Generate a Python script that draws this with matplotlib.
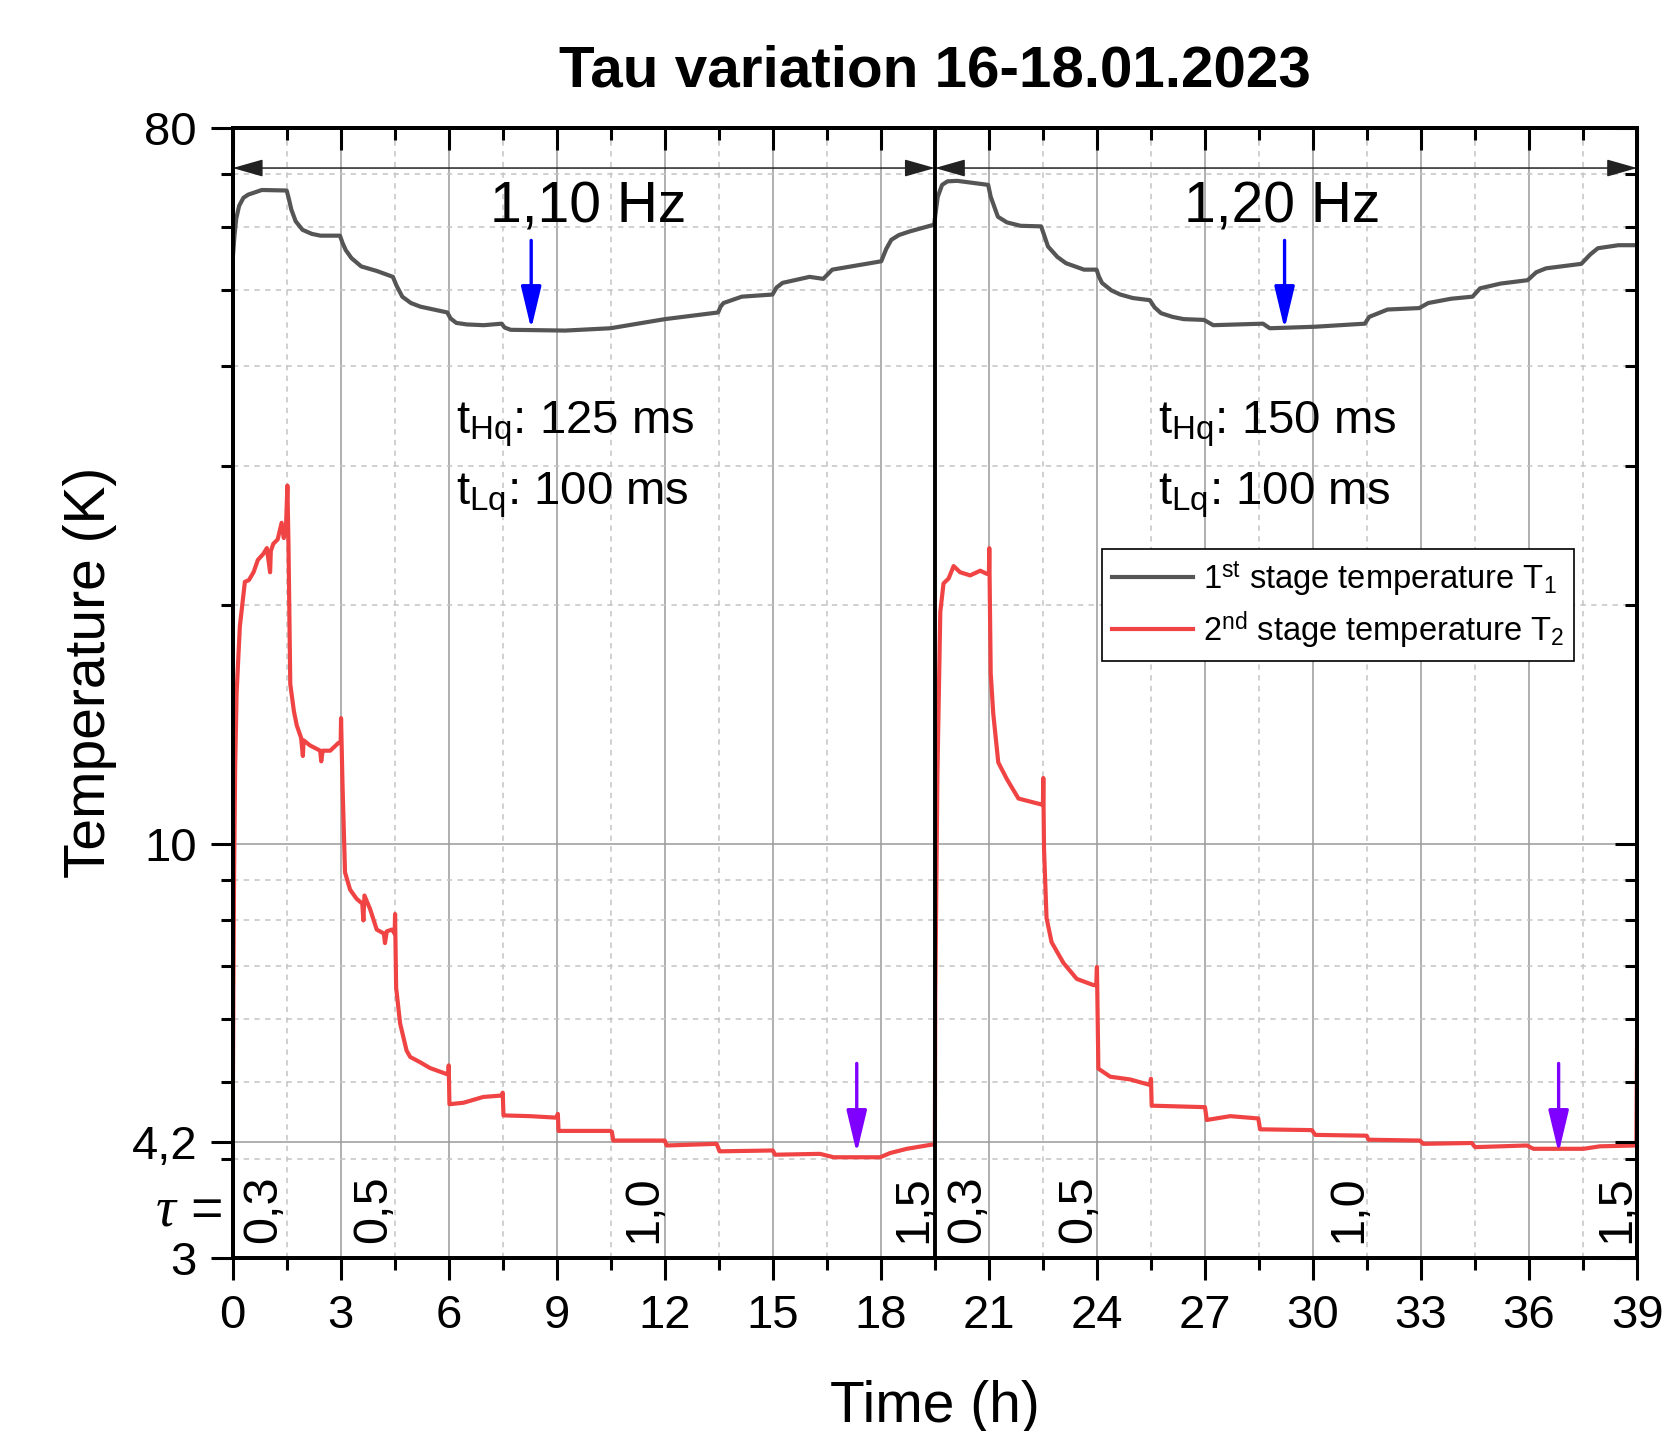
import matplotlib
matplotlib.use('Agg')
import matplotlib.pyplot as plt
from matplotlib.ticker import FixedLocator, FixedFormatter, NullFormatter

plt.rcParams['font.family'] = ['Liberation Sans', 'DejaVu Sans']
plt.rcParams['mathtext.fontset'] = 'custom'
plt.rcParams['mathtext.rm'] = 'Liberation Sans'
plt.rcParams['mathtext.it'] = 'Liberation Serif:italic'
plt.rcParams['mathtext.bf'] = 'Liberation Sans:bold'

# ---------------- data ----------------
title = 'Tau variation 16-18.01.2023'

# 1st stage temperature T1 (K) vs time (h)
t1_hours = [0.0, 0.05, 0.1, 0.18, 0.3, 0.43, 0.81, 1.50, 1.55, 1.63, 1.75, 1.94, 2.2, 2.44, 2.98,
            3.05, 3.14, 3.3, 3.57, 4.0, 4.45, 4.55, 4.71, 4.95, 5.21, 5.96, 6.05, 6.21, 6.5, 6.97,
            7.47, 7.55, 7.72, 9.23, 10.49, 12.0, 13.48, 13.55, 13.63, 14.14, 14.99, 15.1, 15.27,
            16.02, 16.40, 16.65, 18.01, 18.15, 18.29, 18.5, 18.79, 19.48,
            19.52, 19.58, 19.7, 19.85, 20.12, 20.98, 21.05, 21.25, 21.5, 21.88, 22.45, 22.55, 22.64,
            22.9, 23.14, 23.64, 23.99, 24.05, 24.14, 24.4, 24.65, 25.0, 25.47, 25.6, 25.78, 26.1,
            26.41, 26.97, 27.23, 28.61, 28.8, 30.06, 31.44, 31.56, 32.07, 32.95, 33.2, 33.83, 34.43,
            34.64, 35.21, 35.96, 36.2, 36.47, 37.45, 37.7, 37.91, 38.48, 38.98]
t1_temp = [54.5, 58.5, 61.5, 63.8, 65.3, 65.9, 66.8, 66.7, 65.4, 63.1, 61.0, 59.5, 58.8, 58.5, 58.5,
           57.3, 56.1, 54.8, 53.5, 52.8, 51.9, 50.6, 49.0, 48.1, 47.6, 46.8, 46.0, 45.4, 45.2, 45.1,
           45.3, 44.8, 44.5, 44.4, 44.7, 45.9, 46.8, 47.6, 48.1, 49.0, 49.3, 50.3, 51.0,
           51.9, 51.6, 53.0, 54.3, 56.3, 57.8, 58.6, 59.2, 60.4,
           62.5, 65.5, 67.8, 68.5, 68.6, 67.8, 65.5, 61.8, 60.8, 60.2, 60.1, 58.3, 56.7,
           55.0, 54.0, 53.0, 53.0, 52.0, 51.0, 49.9, 49.3, 48.8, 48.5, 47.5, 46.7, 46.2,
           45.9, 45.8, 45.1, 45.3, 44.7, 44.9, 45.3, 46.2, 47.2, 47.4, 48.1, 48.7, 49.0,
           50.2, 50.9, 51.4, 52.6, 53.2, 53.9, 55.4, 56.4, 56.9, 56.9]

# 2nd stage temperature T2 (K) vs time (h)
t2_hours = [0.0, 0.02, 0.04, 0.07, 0.11, 0.2, 0.34, 0.45, 0.58, 0.7, 0.85, 0.95, 1.04, 1.06, 1.13,
            1.25, 1.36, 1.42, 1.48, 1.52, 1.55, 1.58, 1.6, 1.7, 1.78, 1.9, 1.95, 1.97, 2.15, 2.43,
            2.46, 2.5, 2.71, 2.94, 3.0, 3.01, 3.05, 3.12, 3.26, 3.44, 3.6, 3.63, 3.66, 3.82, 4.0,
            4.2, 4.23, 4.28, 4.42, 4.5, 4.51, 4.54, 4.65, 4.83, 4.93, 5.2, 5.48, 5.99, 6.0, 6.02,
            6.41, 6.96, 7.47, 7.5, 7.52, 8.26, 9.0, 9.03, 9.05, 10.48, 10.53, 10.57, 12.0, 12.05,
            13.44, 13.52, 15.0, 15.06, 16.31, 16.69, 17.98, 18.26, 18.72, 19.41, 19.5,
            19.51, 19.57, 19.65, 19.74, 19.88, 20.02, 20.2, 20.48, 20.76, 20.94, 21.0, 21.01, 21.05,
            21.12, 21.26, 21.5, 21.82, 22.14, 22.47, 22.5, 22.51, 22.53, 22.6, 22.74, 23.07, 23.44,
            23.9, 23.98, 24.0, 24.04, 24.37, 24.92, 25.47, 25.5, 25.52, 27.0, 27.05, 27.7, 28.48,
            28.53, 29.97, 30.06, 31.49, 31.54, 32.97, 33.06, 34.41, 34.5, 35.94, 36.12, 37.51,
            37.97, 38.9, 38.98, 39.0]
t2_temp = [4.2, 6.5, 9.2, 12.5, 15.5, 18.8, 21.4, 21.5, 22.0, 22.8, 23.2, 23.6, 22.0, 23.4, 23.9,
           24.2, 25.4, 24.3, 25.0, 28.3, 23.9, 18.5, 15.9, 14.7, 14.1, 13.6, 12.9, 13.5, 13.3, 13.1,
           12.7, 13.1, 13.1, 13.4, 13.4, 14.4, 11.9, 9.2, 8.75, 8.52, 8.4, 8.0, 8.6, 8.26, 7.79,
           7.7, 7.49, 7.75, 7.79, 7.7, 8.15, 6.58, 5.93, 5.48, 5.38, 5.3, 5.21, 5.11, 5.25, 4.69,
           4.71, 4.79, 4.81, 4.85, 4.54, 4.53, 4.51, 4.56, 4.34, 4.34, 4.33, 4.22, 4.22, 4.16,
           4.18, 4.09, 4.1, 4.05, 4.06, 4.02, 4.02, 4.07, 4.12, 4.17, 4.17,
           6.36, 12.2, 19.6, 21.3, 21.6, 22.4, 22.0, 21.8, 22.1, 21.9, 21.9, 23.6, 16.4,
           14.6, 12.66, 12.06, 11.4, 11.3, 11.2, 11.2, 12.1, 9.86, 8.06, 7.51, 7.07, 6.75,
           6.63, 6.63, 6.99, 5.2, 5.08, 5.04, 4.96, 5.05, 4.67, 4.65, 4.48, 4.53, 4.5,
           4.36, 4.35, 4.29, 4.28, 4.23, 4.22, 4.18, 4.19, 4.14, 4.16, 4.12, 4.12,
           4.15, 4.16, 4.16, 5.8]

label_t1 = r'1$^{\mathrm{st}}$ stage temperature T$_{\mathrm{1}}$'
label_t2 = r'2$^{\mathrm{nd}}$ stage temperature T$_{\mathrm{2}}$'

# frequency runs: start, end (h), label
run_start = [0.0, 19.5]
run_end = [19.5, 39.0]
run_freq = ['1,10 Hz', '1,20 Hz']
run_tHq = [r't$_{\mathrm{Hq}}$: 125 ms', r't$_{\mathrm{Hq}}$: 150 ms']
run_tLq = [r't$_{\mathrm{Lq}}$: 100 ms', r't$_{\mathrm{Lq}}$: 100 ms']

# tau values per segment
tau_labels = ['0,3', '0,5', '1,0', '1,5', '0,3', '0,5', '1,0', '1,5']

# minimum markers (h)
t1_min_h = [8.29, 29.21]
t2_min_h = [17.33, 36.82]

x_major = list(range(0, 40, 3))
x_major_labels = [str(v) for v in x_major]
x_minor = [1.5 + 3 * i for i in range(13)]
y_major = [3, 4.2, 10, 80]
y_major_labels = ['3', '4,2', '10', '80']
y_minor = [4, 5, 6, 7, 8, 9, 20, 30, 40, 50, 60, 70]

# ---------------- figure ----------------
fig = plt.figure(figsize=(16.81, 14.31), dpi=100)
ax = fig.add_axes([0.1384, 0.1209, 0.8355, 0.7897])
ax.set_yscale('log')
ax.set_xlim(0, 39)
ax.set_ylim(3, 80)

ax.xaxis.set_major_locator(FixedLocator(x_major))
ax.xaxis.set_major_formatter(FixedFormatter(x_major_labels))
ax.xaxis.set_minor_locator(FixedLocator(x_minor))
ax.xaxis.set_minor_formatter(NullFormatter())
ax.yaxis.set_major_locator(FixedLocator(y_major))
ax.yaxis.set_major_formatter(FixedFormatter(y_major_labels))
ax.yaxis.set_minor_locator(FixedLocator(y_minor))
ax.yaxis.set_minor_formatter(NullFormatter())

TICK_W = 2.2
ax.tick_params(which='major', direction='out', length=15.6, width=TICK_W, labelsize=34, pad=10)
ax.tick_params(which='minor', direction='out', length=8.6, width=TICK_W)
for s in ax.spines.values():
    s.set_linewidth(2.6)

ax.set_axisbelow(True)
ax.grid(which='major', color='#9a9a9a', lw=1.1, ls='-')
ax.grid(which='minor', color='#c4c4c4', lw=1.1, ls=(0, (3.5, 3.5)))

# inward ticks on right and top
axr = ax.twinx()
axr.set_yscale('log')
axr.set_ylim(3, 80)
axr.yaxis.set_major_locator(FixedLocator(y_major))
axr.yaxis.set_minor_locator(FixedLocator(y_minor))
axr.yaxis.set_major_formatter(NullFormatter())
axr.yaxis.set_minor_formatter(NullFormatter())
axr.tick_params(axis='y', which='major', direction='in', length=15.6, width=TICK_W)
axr.tick_params(axis='y', which='minor', direction='in', length=8.6, width=TICK_W)
axt = ax.twiny()
axt.set_xlim(0, 39)
axt.xaxis.set_major_locator(FixedLocator(x_major))
axt.xaxis.set_minor_locator(FixedLocator(x_minor))
axt.xaxis.set_major_formatter(NullFormatter())
axt.xaxis.set_minor_formatter(NullFormatter())
axt.tick_params(axis='x', which='major', direction='in', length=15.6, width=TICK_W)
axt.tick_params(axis='x', which='minor', direction='in', length=8.6, width=TICK_W)
for a in (axr, axt):
    for s in a.spines.values():
        s.set_linewidth(2.6)

# data lines
LW = 3.0
ax.plot(t1_hours, t1_temp, color='#555555', lw=LW, label=label_t1, zorder=3,
        solid_joinstyle='round')
ax.plot(t2_hours, t2_temp, color='#f04444', lw=LW, label=label_t2, zorder=3,
        solid_joinstyle='round')

# divider between runs
ax.axvline(run_end[0], color='black', lw=2.8, zorder=5)

# run annotations
for s, e, f, hq, lq, txt_x in zip(run_start, run_end, run_freq, run_tHq, run_tLq, [9.87, 29.15]):
    ax.annotate('', xy=(s, 71.2), xytext=(e, 71.2),
                arrowprops=dict(arrowstyle='<|-|>,head_length=19,head_width=5.4', mutation_scale=1,
                                color='#222222', lw=1.1, shrinkA=0, shrinkB=0), zorder=6)
    ax.text(txt_x, 60.8, f, ha='center', va='baseline', fontsize=41, zorder=6)
    ax.text(s + 6.19, 32.9, hq, ha='left', va='baseline', fontsize=34)
    ax.text(s + 6.19, 26.8, lq, ha='left', va='baseline', fontsize=34)

# minimum arrows
for h in t1_min_h:
    ax.annotate('', xy=(h, 44.6), xytext=(h, 57.7),
                arrowprops=dict(arrowstyle='-|>,head_length=26,head_width=6.2', mutation_scale=1,
                                color='#0000ff', lw=2.4, shrinkA=0, shrinkB=0), zorder=7)
for h in t2_min_h:
    ax.annotate('', xy=(h, 4.07), xytext=(h, 5.28),
                arrowprops=dict(arrowstyle='-|>,head_length=26,head_width=6.2', mutation_scale=1,
                                color='#8000ff', lw=2.4, shrinkA=0, shrinkB=0), zorder=7)

# tau labels
tau_x = [1.21, 4.27, 11.77, 19.25, 20.77, 23.84, 31.34, 38.78]
for x, lab in zip(tau_x, tau_labels):
    ax.text(x, 3.13, lab, rotation=90, rotation_mode='anchor', ha='left', va='baseline',
            fontsize=35, zorder=6)
ax.text(-0.0075, 3.43, r'$\tau$ =', transform=ax.get_yaxis_transform(), ha='right', va='center',
        fontsize=40)

# legend
leg = ax.legend(loc='upper left', bbox_to_anchor=(0.619, 0.627), fontsize=23.5, frameon=True,
                fancybox=False, edgecolor='black', framealpha=1, borderpad=0.3,
                handlelength=2.5, handletextpad=0.3, labelspacing=0.35, borderaxespad=0)
leg.get_frame().set_linewidth(1.2)
for ln in leg.get_lines():
    ln.set_linewidth(LW)
leg.set_zorder(8)

ax.set_xlabel('Time (h)', fontsize=41)
ax.xaxis.set_label_coords(0.5, -0.108)
ax.set_ylabel('Temperature (K)', fontsize=41)
ax.yaxis.set_label_coords(-0.082, 0.518)
ax.set_title(title, fontsize=42, fontweight='bold', y=1.037, pad=0)

fig.savefig('out.png', dpi=100)
